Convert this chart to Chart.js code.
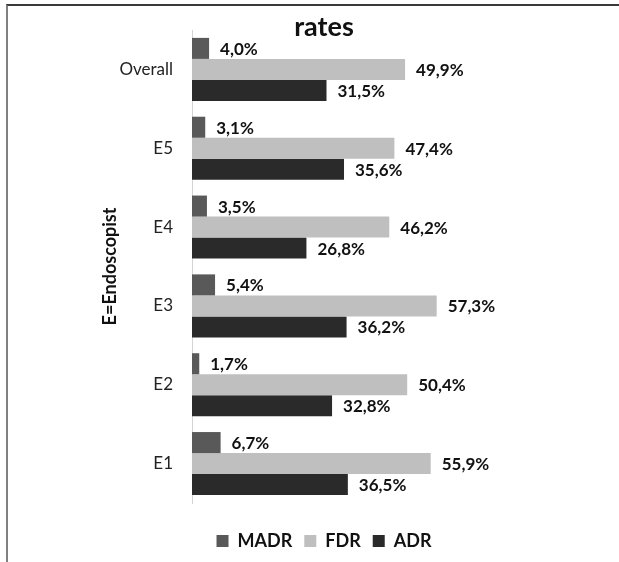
<!DOCTYPE html>
<html>
<head>
<meta charset="utf-8">
<script src="https://cdn.jsdelivr.net/npm/chart.js@4"></script>
<style>
  html, body { margin: 0; padding: 0; background: #fff; }
  #frame { position: absolute; left: 6px; top: 4px; right: 0; bottom: 0;
           border-top: 2px solid #3a3a3a; border-left: 2px solid #808080; }
  #chart { position: absolute; left: 0; top: 0; }
</style>
</head>
<body>
<div id="frame"></div>
<canvas id="chart" width="619" height="562"></canvas>
<script>
// rates per endoscopist, top to bottom
const categories = ['Overall', 'E5', 'E4', 'E3', 'E2', 'E1'];
const madr = [4.0, 3.1, 3.5, 5.4, 1.7, 6.7];
const fdr  = [49.9, 47.4, 46.2, 57.3, 50.4, 55.9];
const adr  = [31.5, 35.6, 26.8, 36.2, 32.8, 36.5];

const fmt = v => v.toFixed(1).replace('.', ',') + '%';

// value labels right of each bar
const barLabels = {
  id: 'barLabels',
  afterDatasetsDraw(chart) {
    const ctx = chart.ctx;
    ctx.save();
    ctx.font = 'bold 17px Lato, "Open Sans", sans-serif';
    ctx.fillStyle = '#111';
    ctx.textAlign = 'left';
    ctx.textBaseline = 'middle';
    chart.data.datasets.forEach((ds, i) => {
      chart.getDatasetMeta(i).data.forEach((bar, j) => {
        ctx.fillText(fmt(ds.data[j]), bar.x + 11, bar.y + 1);
      });
    });
    ctx.restore();
  }
};

Chart.defaults.font.family = 'Lato, "Open Sans", sans-serif';

new Chart(document.getElementById('chart'), {
  type: 'bar',
  data: {
    labels: categories,
    datasets: [
      { label: 'MADR', data: madr, backgroundColor: '#595959', borderWidth: 0 },
      { label: 'FDR',  data: fdr,  backgroundColor: '#bfbfbf', borderWidth: 0 },
      { label: 'ADR',  data: adr,  backgroundColor: '#2a2a2a', borderWidth: 0 }
    ]
  },
  options: {
    indexAxis: 'y',
    responsive: false,
    animation: false,
    barPercentage: 1,
    categoryPercentage: 0.8,
    layout: { padding: { left: 29, right: 0, top: 0, bottom: 2 } },
    plugins: {
      title: {
        display: true, text: 'rates', color: '#111',
        font: { size: 27, weight: 'bold', lineHeight: 1 },
        padding: { top: 14, bottom: -11 }
      },
      legend: {
        position: 'bottom',
        labels: {
          boxWidth: 12, boxHeight: 12, padding: 12, color: '#111',
          font: { size: 18, weight: 'bold' }
        }
      },
      tooltip: { enabled: false }
    },
    scales: {
      x: {
        min: 0, max: 100,
        grid: { display: false },
        border: { display: false },
        ticks: { display: false },
        afterFit: s => { s.height = 17; }
      },
      y: {
        grid: { display: false, drawTicks: false },
        border: { display: true, color: '#d4d4d4', width: 1 },
        ticks: { color: '#222', padding: 19, font: { size: 17 } },
        title: {
          display: true, text: 'E=Endoscopist', color: '#111',
          font: { size: 18, weight: 'bold' },
          padding: { top: 70, bottom: 0 }
        },
        afterFit: s => { s.width = 163; }
      }
    }
  },
  plugins: [barLabels]
});
</script>
</body>
</html>
